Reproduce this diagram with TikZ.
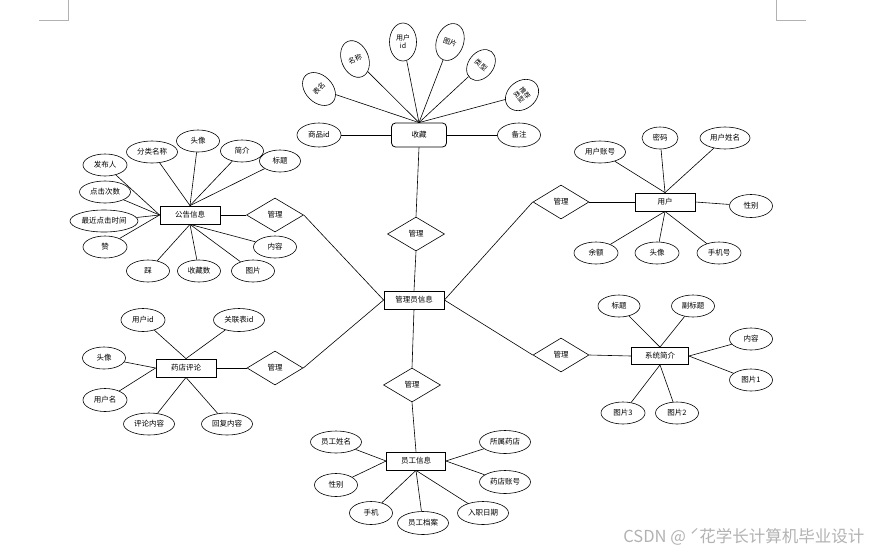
\documentclass[tikz,border=0pt]{standalone}
\usepackage{fontspec}
\setmainfont{Noto Sans CJK SC}
\usetikzlibrary{shapes.geometric}
\tikzset{
  lbl/.style={font=\fontsize{7.5}{8.5}\selectfont},
  ent/.style={lbl, draw, rectangle, line width=0.8pt, minimum width=60pt, minimum height=18pt, inner sep=1pt},
  entr/.style={ent, rounded corners=4pt, minimum width=55pt, minimum height=24pt},
  attr/.style={lbl, draw, ellipse, line width=0.6pt, minimum width=43pt, minimum height=22pt, inner sep=0pt},
  wattr/.style={attr, minimum width=51pt},
  fan/.style={attr, minimum width=27pt, minimum height=38pt, align=center, font=\fontsize{7}{8}\selectfont},
  rel/.style={lbl, draw, diamond, line width=0.6pt, minimum width=57pt, minimum height=34pt, inner sep=0pt},
  link/.style={line width=0.6pt},
  cornermark/.style={draw=black!30, line width=0.8pt},
  wm/.style={font=\fontsize{16.5}{18}\selectfont, text=black!30}
}
\begin{document}
\begin{tikzpicture}[x=1pt,y=-1pt]
\useasboundingbox (0,0) rectangle (872,552);
% page corner marks
\coordinate (tl0) at (68,0); \coordinate (tl1) at (68,20); \coordinate (tl2) at (39,20);
\coordinate (tr0) at (776,0); \coordinate (tr1) at (776,20); \coordinate (tr2) at (806,20);
\draw[cornermark] (tl0) -- (tl1) -- (tl2);
\draw[cornermark] (tr0) -- (tr1) -- (tr2);

% central entity
\node[ent] (main) at (414,300) {管理员信息};

% ---- 收藏 ----
\node[entr] (sc) at (419,135) {收藏};
\node[attr, minimum width=44pt, minimum height=24pt] (scspid) at (319,135) {商品id};
\node[attr, minimum height=24pt] (scbz) at (519,135) {备注};
\node[fan, rotate=45] (scbm) at (319,89) {表名};
\node[fan, rotate=22] (scmc) at (355,59) {名称};
\node[fan] (scyh) at (403,42) {用户\\id};
\node[fan, rotate=-20] (sctp) at (450,42) {图片};
\node[fan, rotate=-38, minimum height=34pt, minimum width=25pt] (sclx) at (481,65) {类型};
\node[fan, rotate=-52, minimum height=36pt, minimum width=28pt, font=\fontsize{6.5}{7.5}\selectfont] (sctj) at (522,95) {推荐\\类型};
\node[rel] (dsc) at (416,234) {管理};
\foreach \n in {scbm,scmc,scyh,sctp,sclx,sctj} \draw[link] (\n) -- (sc.north);
\draw[link] (scspid) -- (sc.west);
\draw[link] (scbz) -- (sc.east);
\draw[link] (sc.south) -- (dsc.north);
\draw[link] (dsc.south) -- (main.north);

% ---- 公告信息 ----
\node[ent] (gg) at (190,215) {公告信息};
\node[rel] (dgg) at (275,215) {管理};
\node[wattr] (ggfl) at (152,152) {分类名称};
\node[attr] (ggtx) at (198,141) {头像};
\node[attr] (ggjj) at (242,151) {简介};
\node[attr, minimum width=41pt] (ggbt) at (280,161) {标题};
\node[attr, minimum width=44pt] (ggfb) at (105,165) {发布人};
\node[wattr] (ggdj) at (105,192) {点击次数};
\node[attr, minimum width=68pt] (ggzj) at (104,221) {最近点击时间};
\node[attr, minimum width=44pt] (ggz) at (105,247) {赞};
\node[attr] (ggc) at (148,271) {踩};
\node[attr] (ggsc) at (199,271) {收藏数};
\node[attr] (ggtp) at (253,271) {图片};
\node[attr] (ggnr) at (275,247) {内容};
\foreach \n in {ggfl,ggtx,ggjj,ggbt} \draw[link] (\n) -- (gg.north);
\foreach \n in {ggfb,ggdj,ggzj,ggz} \draw[link] (\n) -- (gg.west);
\foreach \n in {ggc,ggsc,ggtp,ggnr} \draw[link] (\n) -- (gg.south);
\draw[link] (gg.east) -- (dgg.west);
\draw[link] (dgg.east) -- (main.west);

% ---- 用户 ----
\node[ent] (yh) at (665,202) {用户};
\node[rel, minimum width=56pt] (dyh) at (561,202) {管理};
\node[wattr] (yhzh) at (600,152) {用户账号};
\node[attr, minimum width=36pt] (yhmm) at (660,138) {密码};
\node[attr, minimum width=50pt] (yhxm) at (725,138) {用户姓名};
\node[attr, minimum height=23pt] (yhxb) at (751,206) {性别};
\node[attr, minimum width=44pt] (yhye) at (596,253) {余额};
\node[attr, minimum width=44pt] (yhtx) at (657,253) {头像};
\node[attr, minimum width=44pt] (yhsj) at (719,253) {手机号};
\foreach \n in {yhzh,yhmm,yhxm} \draw[link] (\n) -- (yh.north);
\draw[link] (yhxb) -- (yh.east);
\foreach \n in {yhye,yhtx,yhsj} \draw[link] (\n) -- (yh.south);
\draw[link] (yh.west) -- (dyh.east);
\draw[link] (dyh.west) -- (main.east);

% ---- 系统简介 ----
\node[ent, minimum width=57pt, minimum height=17pt] (xt) at (660,356) {系统简介};
\node[rel, minimum width=56pt] (dxt) at (561,355) {管理};
\node[attr, minimum width=42pt] (xtbt) at (619,306) {标题};
\node[attr] (xtfb) at (693,306) {副标题};
\node[attr] (xtnr) at (751,339) {内容};
\node[attr] (xtt1) at (751,380) {图片1};
\node[attr, minimum width=44pt] (xtt3) at (623,413) {图片3};
\node[attr] (xtt2) at (677,413) {图片2};
\foreach \n in {xtbt,xtfb} \draw[link] (\n) -- (xt.north);
\foreach \n in {xtnr,xtt1} \draw[link] (\n) -- (xt.east);
\foreach \n in {xtt3,xtt2} \draw[link] (\n) -- (xt.south);
\draw[link] (xt.west) -- (dxt.east);
\draw[link] (dxt.west) -- (main.east);

% ---- 药店评论 ----
\node[ent] (pl) at (186,368) {药店评论};
\node[rel, minimum width=56pt] (dpl) at (275,368) {管理};
\node[attr, minimum width=44pt, minimum height=23pt] (plyh) at (143,320) {用户id};
\node[wattr, minimum height=23pt] (plgl) at (239,320) {关联表id};
\node[attr] (pltx) at (104,358) {头像};
\node[attr, minimum width=44pt, minimum height=23pt] (plyhm) at (105,400) {用户名};
\node[wattr] (plpl) at (149,424) {评论内容};
\node[wattr] (plhf) at (227,424) {回复内容};
\foreach \n in {plyh,plgl} \draw[link] (\n) -- (pl.north);
\foreach \n in {pltx,plyhm} \draw[link] (\n) -- (pl.west);
\foreach \n in {plpl,plhf} \draw[link] (\n) -- (pl.south);
\draw[link] (pl.east) -- (dpl.west);
\draw[link] (dpl.east) -- (main.west);

% ---- 员工信息 ----
\node[ent, minimum width=59pt] (yg) at (416,461) {员工信息};
\node[rel] (dyg) at (412,385) {管理};
\node[wattr] (ygxm) at (336,442) {员工姓名};
\node[attr, minimum height=23pt] (ygxb) at (336,485) {性别};
\node[attr, minimum height=23pt] (ygsj) at (371,513) {手机};
\node[wattr, minimum height=23pt] (ygda) at (423,523) {员工档案};
\node[wattr, minimum height=23pt] (ygrz) at (483,513) {入职日期};
\node[wattr, minimum height=23pt] (ygyd) at (505,442) {所属药店};
\node[wattr, minimum height=23pt] (ygzh) at (505,482) {药店账号};
\foreach \n in {ygxm,ygxb} \draw[link] (\n) -- (yg.west);
\foreach \n in {ygyd,ygzh} \draw[link] (\n) -- (yg.east);
\foreach \n in {ygsj,ygda,ygrz} \draw[link] (\n) -- (yg.south);
\draw[link] (yg.north) -- (dyg.south);
\draw[link] (dyg.north) -- (main.south);

% watermark
\node[wm, anchor=east] (wmk) at (868,537) {CSDN @ ˊ花学长计算机毕业设计};
\end{tikzpicture}
\end{document}
